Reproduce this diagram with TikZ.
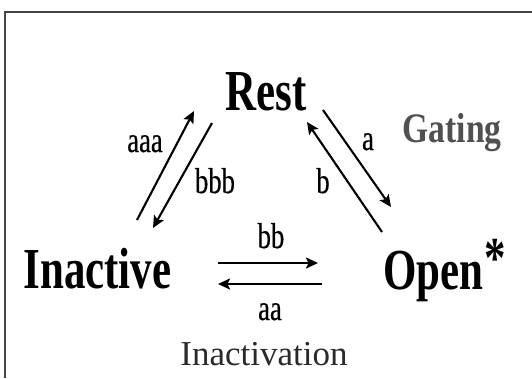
\documentclass[tikz,border=0pt]{standalone}
\usepackage{fontspec}
\setmainfont{Liberation Serif}
\newfontfamily\bigbold{Liberation Serif Bold}[FakeStretch=0.74]
\newfontfamily\gatefont{Liberation Serif Bold}[FakeStretch=0.8]
\newfontfamily\labfont{Liberation Serif}[FakeStretch=0.74,FakeBold=0.4]
\usetikzlibrary{arrows.meta}
\definecolor{framegray}{HTML}{454545}
\definecolor{gategray}{HTML}{505050}
\definecolor{inactgray}{HTML}{2A2A2A}
\begin{document}
\begin{tikzpicture}[x=1pt,y=-1pt,
  state/.style={anchor=base,inner sep=0pt,font=\bigbold\fontsize{58}{60}\selectfont},
  rate/.style={anchor=base,inner sep=0pt,font=\labfont\fontsize{36}{38}\selectfont},
  arr/.style={line width=2.1pt,-{Stealth[length=12pt,width=11pt,inset=2.5pt]}}]
\useasboundingbox (0,0) rectangle (532,378);
\draw[framegray,line width=2pt] (4.5,378) -- (4.5,12) -- (532,12);
% states
\node[state] (rest) at (266,110) {Rest};
\node[state] (inactive) at (97.5,288) {Inactive};
\node[state,anchor=base west] (open) at (383,289) {Open\kern1pt\raisebox{12pt}{*}};
% group labels
\node[anchor=base,inner sep=0pt,text=gategray,font=\gatefont\fontsize{42}{44}\selectfont] (gating) at (452,142) {Gating};
\node[anchor=base,inner sep=0pt,text=inactgray,font=\fontsize{35}{37}\selectfont] (inactivation) at (264,365) {Inactivation};
% arrow endpoints
\coordinate (p1) at (137,220); \coordinate (p2) at (194,111);
\coordinate (q1) at (212,123); \coordinate (q2) at (153,228);
\coordinate (r1) at (323,110); \coordinate (r2) at (391,207);
\coordinate (s1) at (382,232); \coordinate (s2) at (307,122);
\coordinate (t1) at (218,263); \coordinate (t2) at (318,263);
\coordinate (u1) at (322,284); \coordinate (u2) at (218,284);
\draw[arr] (p1) -- (p2);
\draw[arr] (q1) -- (q2);
\draw[arr] (r1) -- (r2);
\draw[arr] (s1) -- (s2);
\draw[arr] (t1) -- (t2);
\draw[arr] (u1) -- (u2);
% rate labels
\node[rate] (laaa) at (145,152) {aaa};
\node[rate] (lbbb) at (215,193) {bbb};
\node[rate] (la) at (368,150) {a};
\node[rate] (lb) at (323,193) {b};
\node[rate] (lbb) at (271,248) {bb};
\node[rate] (laa) at (270,320) {aa};
\end{tikzpicture}
\end{document}
